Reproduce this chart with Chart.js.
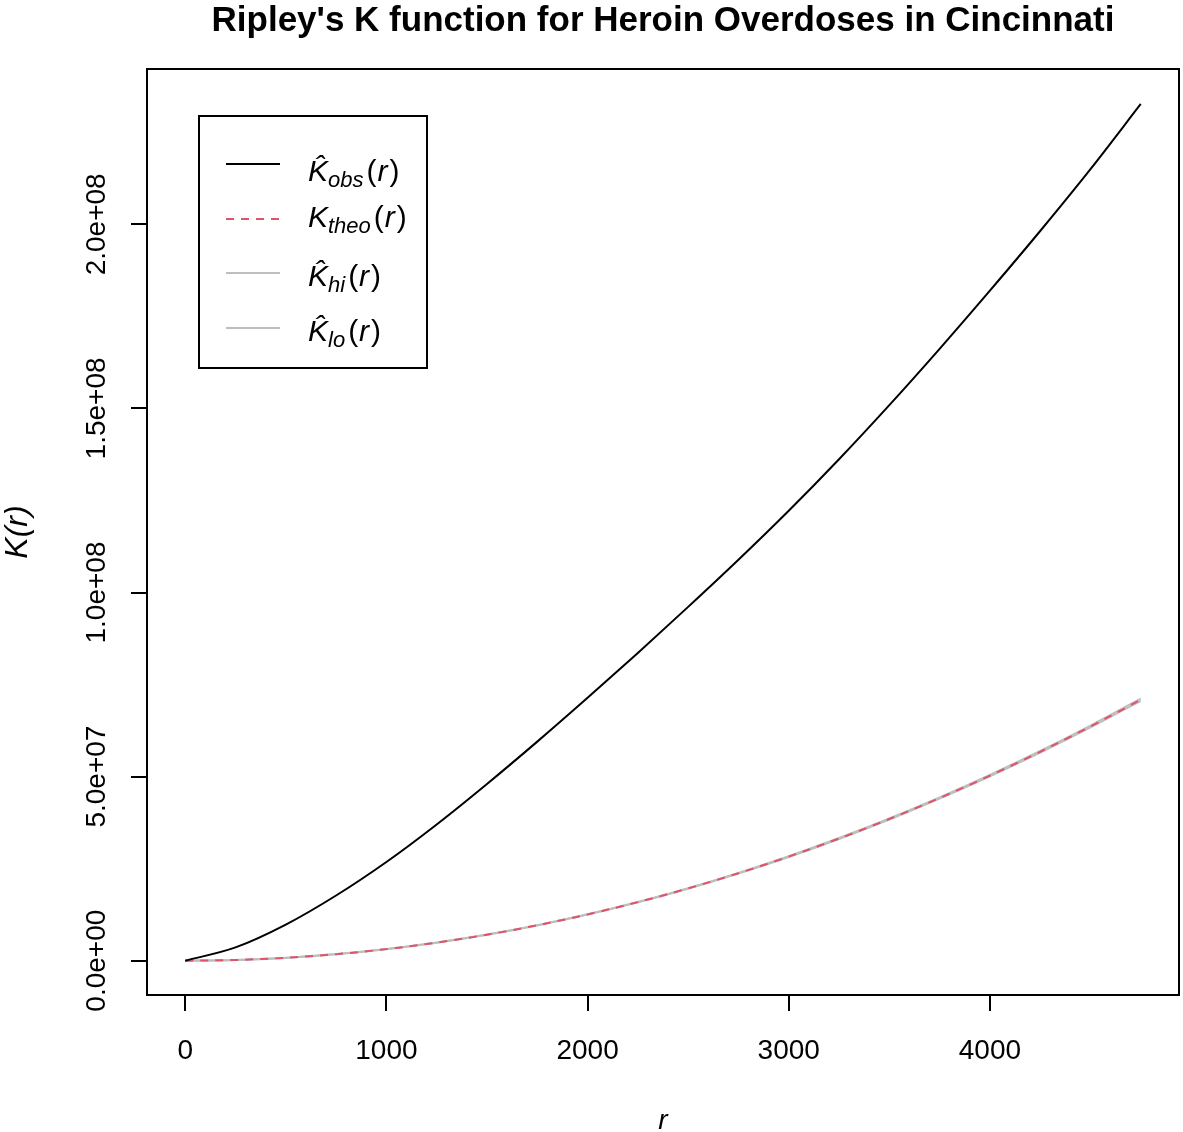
<!DOCTYPE html>
<html>
<head>
<meta charset="utf-8">
<title>Ripley's K function</title>
<script src="https://cdn.jsdelivr.net/npm/chart.js@4/dist/chart.umd.min.js"></script>
<style>
  html, body { margin: 0; padding: 0; background: #fff; }
  #wrap { width: 1183px; height: 1132px; }
</style>
</head>
<body>
<div id="wrap"><canvas id="kChart" width="1183" height="1132"></canvas></div>
<script>
// distance r (same grid for every curve)
const rValues = [0, 250, 500, 750, 1000, 1250, 1500, 1750, 2000, 2250,
                 2500, 2750, 3000, 3250, 3500, 3750, 4000, 4250, 4500, 4750];

// K(r) values, in millions
const kObs  = [0, 3.6, 9.8, 17.7, 26.8, 37.0, 48.0, 59.5, 71.4, 83.6,
               96.1, 108.9, 122.2, 136.2, 150.9, 166.2, 182.0, 198.2, 215.0, 232.7];
const kTheo = [0, 0.196, 0.785, 1.767, 3.142, 4.909, 7.069, 9.621, 12.566, 15.904,
               19.635, 23.758, 28.274, 33.183, 38.485, 44.179, 50.265, 56.745, 63.617, 70.882];
const kHi   = [0, 0.22, 0.81, 1.80, 3.17, 4.94, 7.10, 9.66, 12.61, 15.96,
               19.71, 23.85, 28.38, 33.31, 38.63, 44.35, 50.46, 56.97, 63.87, 71.16];
const kLo   = [0, 0.17, 0.76, 1.73, 3.11, 4.88, 7.04, 9.58, 12.52, 15.85,
               19.56, 23.67, 28.17, 33.06, 38.34, 44.01, 50.07, 56.52, 63.36, 70.60];

const xTicks = [0, 1000, 2000, 3000, 4000];
const yTicks = [0, 5e7, 1e8, 1.5e8, 2e8];
const yTickLabels = ['0.0e+00', '5.0e+07', '1.0e+08', '1.5e+08', '2.0e+08'];

// legend: subscript names and whether the K gets a hat
const seriesNames = ['obs', 'theo', 'hi', 'lo'];
const seriesHat = [true, false, true, true];

const FONT = "'Liberation Sans', Arial, Helvetica, sans-serif";

function toPoints(vals) {
    return rValues.map((r, i) => ({ x: r, y: vals[i] * 1e6 }));
}

// box around the plot region, like R's box()
const plotBox = {
    id: 'plotBox',
    afterDatasetsDraw(chart) {
        const { ctx, chartArea: a } = chart;
        ctx.save();
        ctx.strokeStyle = '#000';
        ctx.lineWidth = 2;
        ctx.strokeRect(a.left, a.top, a.right - a.left, a.bottom - a.top);
        ctx.restore();
    }
};

// R style legend with K-hat and subscripts
const rLegend = {
    id: 'rLegend',
    afterDraw(chart) {
        const { ctx, chartArea } = chart;
        const left = chartArea.left + 52;
        const top = chartArea.top + 47;
        const lineY = [48, 103, 157, 212];
        const baseY = [65, 111, 170, 225];
        ctx.save();
        ctx.fillStyle = '#fff';
        ctx.fillRect(left, top, 228, 252);
        ctx.strokeStyle = '#000';
        ctx.lineWidth = 2;
        ctx.strokeRect(left, top, 228, 252);

        chart.data.datasets.forEach((ds, i) => {
            const y = top + lineY[i];
            ctx.beginPath();
            ctx.setLineDash(ds.borderDash || []);
            ctx.strokeStyle = ds.borderColor;
            ctx.lineWidth = ds.borderWidth;
            ctx.moveTo(left + 27, y);
            ctx.lineTo(left + 81, y);
            ctx.stroke();
            ctx.setLineDash([]);

            const by = top + baseY[i];
            let x = left + 109;
            ctx.fillStyle = '#000';
            ctx.textBaseline = 'alphabetic';
            ctx.textAlign = 'left';
            ctx.font = 'italic 30px ' + FONT;
            ctx.fillText(seriesHat[i] ? 'K\u0302' : 'K', x, by);
            x += ctx.measureText('K').width;
            ctx.font = 'italic 22px ' + FONT;
            ctx.fillText(seriesNames[i], x, by + 6);
            x += ctx.measureText(seriesNames[i]).width + 3;
            ctx.font = '30px ' + FONT;
            ctx.fillText('(', x, by);
            x += ctx.measureText('(').width + 1;
            ctx.font = 'italic 30px ' + FONT;
            ctx.fillText('r', x, by);
            x += ctx.measureText('r').width + 2;
            ctx.font = '30px ' + FONT;
            ctx.fillText(')', x, by);
        });
        ctx.restore();
    }
};

const ctx = document.getElementById('kChart').getContext('2d');
new Chart(ctx, {
    type: 'line',
    data: {
        datasets: [
            {
                label: 'K obs',
                data: toPoints(kObs),
                borderColor: '#000000',
                borderWidth: 2,
                pointRadius: 0,
                cubicInterpolationMode: 'monotone',
                fill: false
            },
            {
                label: 'K theo',
                data: toPoints(kTheo),
                borderColor: '#DF536B',
                borderWidth: 2,
                borderDash: [8, 7],
                pointRadius: 0,
                cubicInterpolationMode: 'monotone',
                fill: false
            },
            {
                label: 'K hi',
                data: toPoints(kHi),
                borderColor: '#BEBEBE',
                borderWidth: 2,
                pointRadius: 0,
                cubicInterpolationMode: 'monotone',
                fill: false
            },
            {
                label: 'K lo',
                data: toPoints(kLo),
                borderColor: '#BEBEBE',
                borderWidth: 2,
                pointRadius: 0,
                cubicInterpolationMode: 'monotone',
                fill: false
            }
        ]
    },
    options: {
        responsive: false,
        animation: false,
        devicePixelRatio: 1,
        layout: { padding: { top: 0, left: 0, right: 4, bottom: 0 } },
        plugins: {
            legend: { display: false },
            tooltip: { enabled: false },
            title: {
                display: true,
                text: "Ripley's K function for Heroin Overdoses in Cincinnati",
                fullSize: false,
                color: '#000',
                font: { family: FONT, size: 35, weight: 'bold', lineHeight: 1 },
                padding: { top: 4, bottom: 30 }
            }
        },
        scales: {
            x: {
                type: 'linear',
                min: -190,
                max: 4940,
                afterBuildTicks: (scale) => { scale.ticks = xTicks.map(v => ({ value: v })); },
                afterFit: (scale) => { scale.height = 137; },
                border: { display: false },
                grid: { drawOnChartArea: false, drawTicks: true, tickLength: 16, color: '#000', lineWidth: 2 },
                ticks: {
                    autoSkip: false,
                    maxRotation: 0,
                    padding: 23,
                    color: '#000',
                    font: { family: FONT, size: 28 },
                    callback: (v) => String(v)
                },
                title: {
                    display: true,
                    text: 'r',
                    color: '#000',
                    font: { family: FONT, size: 28, style: 'italic', lineHeight: 0.75 },
                    padding: { top: 0, bottom: 0.5 }
                }
            },
            y: {
                type: 'linear',
                min: -9.32e6,
                max: 2.422e8,
                afterBuildTicks: (scale) => { scale.ticks = yTicks.map(v => ({ value: v })); },
                afterFit: (scale) => { scale.width = 147; },
                border: { display: false },
                grid: { drawOnChartArea: false, drawTicks: true, tickLength: 16, color: '#000', lineWidth: 2 },
                ticks: {
                    autoSkip: false,
                    minRotation: 90,
                    maxRotation: 90,
                    crossAlign: 'center',
                    padding: -17,
                    color: '#000',
                    font: { family: FONT, size: 28 },
                    callback: (v) => {
                        const i = yTicks.indexOf(v);
                        return i >= 0 ? yTickLabels[i] : '';
                    }
                },
                title: {
                    display: true,
                    text: 'K(r)',
                    color: '#000',
                    font: { family: FONT, size: 32, style: 'italic', lineHeight: 1.1 },
                    padding: { top: 0, bottom: 0 }
                }
            }
        }
    },
    plugins: [plotBox, rLegend]
});
</script>
</body>
</html>
